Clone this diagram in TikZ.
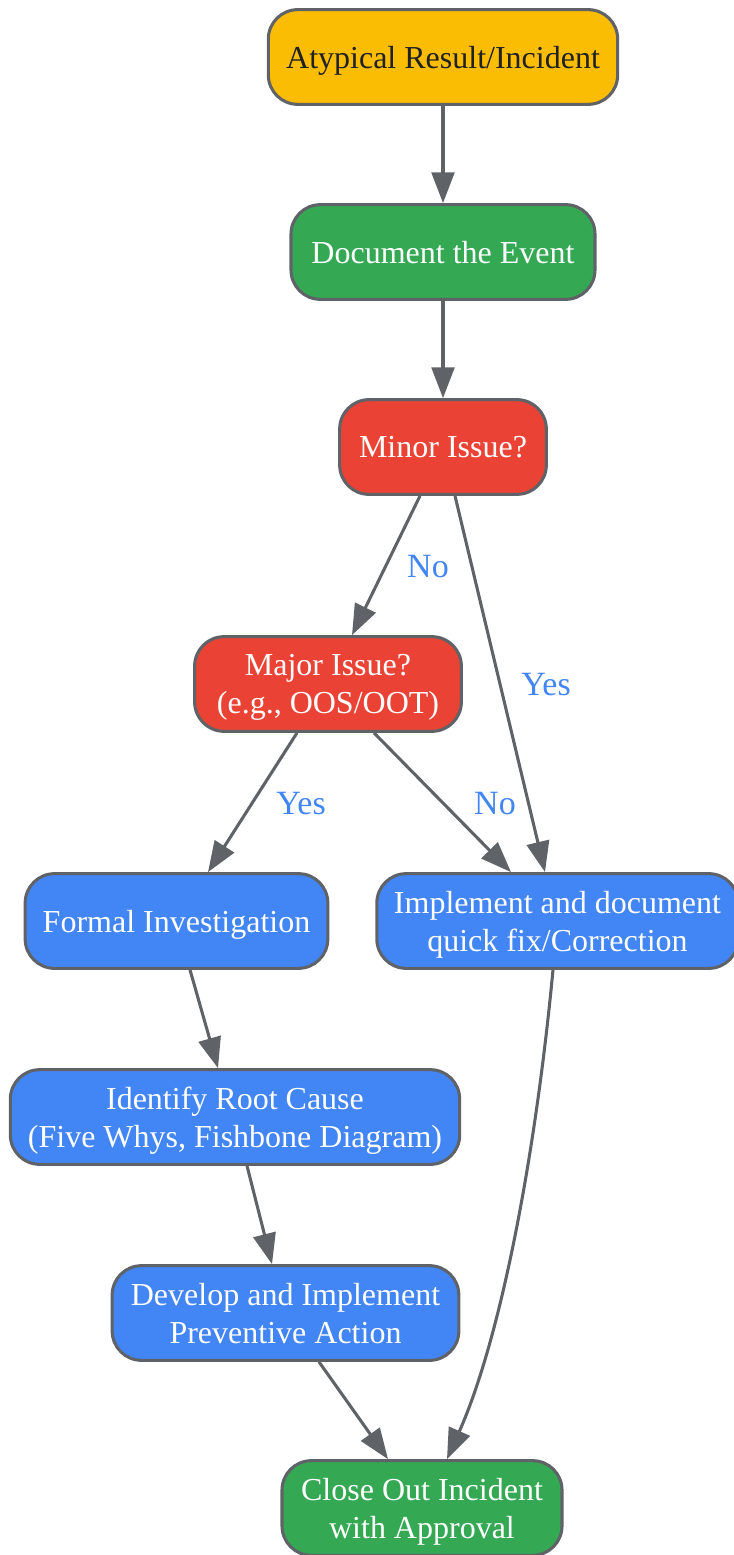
\documentclass[tikz,border=0pt]{standalone}
\usepackage{fontspec}
\setmainfont{Liberation Serif}
\usetikzlibrary{arrows.meta,calc}

\definecolor{gyellow}{HTML}{FBBC04}
\definecolor{ggreen}{HTML}{34A853}
\definecolor{gred}{HTML}{EA4335}
\definecolor{gblue}{HTML}{4285F4}
\definecolor{ggray}{HTML}{5F6368}
\definecolor{gdark}{HTML}{202124}

\begin{document}
\begin{tikzpicture}[x=0.75pt,y=-0.75pt,
    box/.style={rectangle, rounded corners=22pt, draw=ggray, line width=2.3pt,
        minimum height=71pt, align=center, text=white, inner sep=2pt, text depth=0pt,
        font=\fontsize{24}{28.5}\selectfont},
    flow/.style={draw=ggray, line width=2.3pt,
        -{Triangle[length=23pt,width=17pt]}},
    lbl/.style={text=gblue, font=\fontsize{25.5}{30}\selectfont}]

    \useasboundingbox (0,0) rectangle (734,1555);

    % nodes
    \node[box, fill=gyellow, text=gdark, minimum width=262pt] (incident) at (443,57) {Atypical Result/Incident};
    \node[box, fill=ggreen, minimum width=228pt] (document) at (443,252) {Document the Event};
    \node[box, fill=gred, minimum width=155pt] (minor) at (443,447) {Minor Issue?};
    \node[box, fill=gred, minimum width=200pt] (major) at (328,684) {Major Issue?\\(e.g., OOS/OOT)};
    \node[box, fill=gblue, minimum width=227pt] (formal) at (176.5,921) {Formal Investigation};
    \node[box, fill=gblue, minimum width=271pt] (quickfix) at (557.5,921) {Implement and document\\quick fix/Correction};
    \node[box, fill=gblue, minimum width=337pt] (rootcause) at (235,1117) {Identify Root Cause\\(Five Whys, Fishbone Diagram)};
    \node[box, fill=gblue, minimum width=260pt] (preventive) at (285.5,1313) {Develop and Implement\\Preventive Action};
    \node[box, fill=ggreen, minimum width=210pt] (closeout) at (422,1508) {Close Out Incident\\with Approval};

    % edges
    \draw[flow] (incident) -- (document);
    \draw[flow] (document) -- (minor);
    \draw[flow] ($(minor.south)+(-23,0)$) -- ($(major.north)+(24,0)$);
    \draw[flow] ($(minor.south)+(12,0)$) -- ($(quickfix.north)+(-12.5,0)$);
    \draw[flow] ($(major.south)+(-31,0)$) -- ($(formal.north)+(31.5,0)$);
    \draw[flow] ($(major.south)+(46,0)$) -- ($(quickfix.north)+(-46.5,0)$);
    \draw[flow] ($(formal.south)+(13.5,0)$) -- ($(rootcause.north)+(-17,0)$);
    \draw[flow] ($(rootcause.south)+(12,0)$) -- ($(preventive.north)+(-13.5,0)$);
    \draw[flow] ($(preventive.south)+(33.5,0)$) -- ($(closeout.north)+(-34,0)$);
    \draw[flow] ($(quickfix.south)+(-4.5,0)$) .. controls (535,1160) and (500,1340) .. ($(closeout.north)+(25,0)$);

    % labels
    \node[lbl] (no1) at (428,567) {No};
    \node[lbl] (yes1) at (546,685) {Yes};
    \node[lbl] (yes2) at (301,804) {Yes};
    \node[lbl] (no2) at (495,804) {No};
\end{tikzpicture}
\end{document}
